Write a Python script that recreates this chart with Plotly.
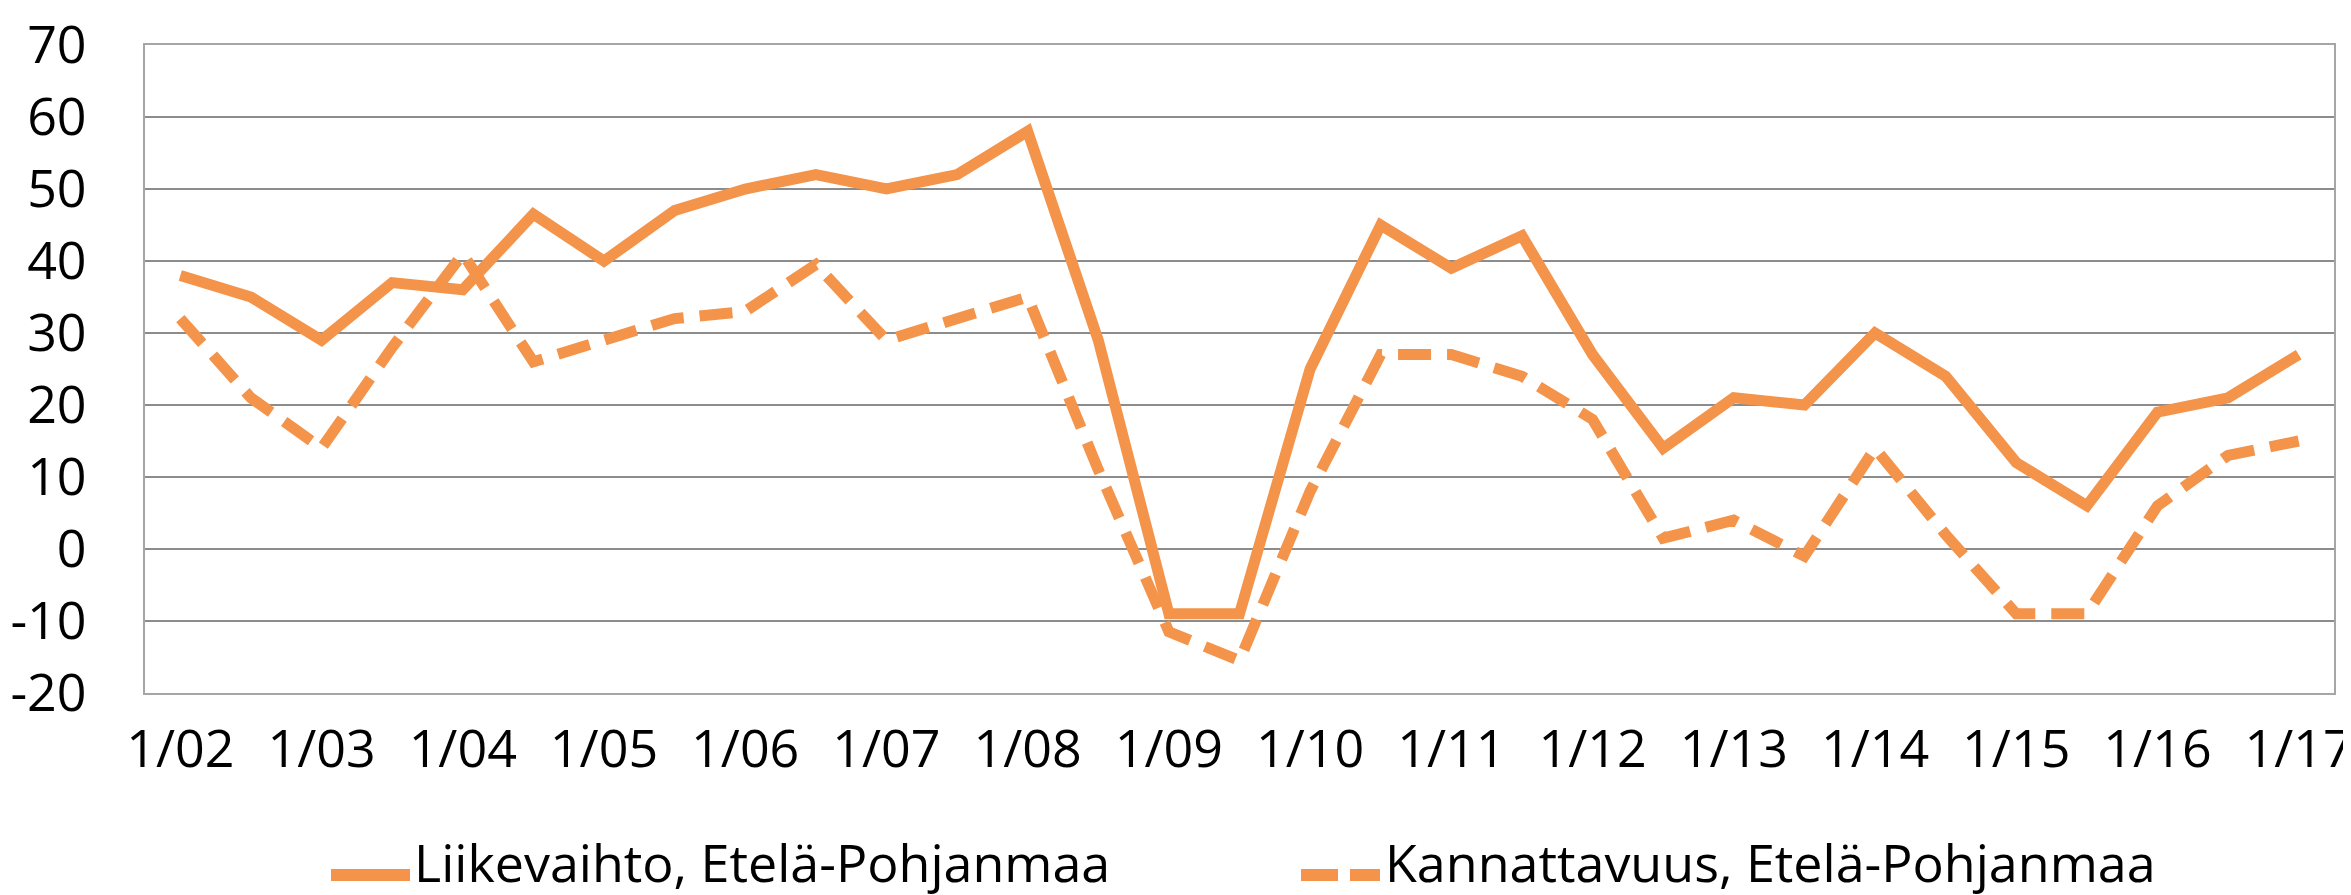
import plotly.graph_objects as go

periods = ["1/02", "7/02", "1/03", "7/03", "1/04", "7/04", "1/05", "7/05", "1/06", "7/06",
           "1/07", "7/07", "1/08", "7/08", "1/09", "7/09", "1/10", "7/10", "1/11", "7/11",
           "1/12", "7/12", "1/13", "7/13", "1/14", "7/14", "1/15", "7/15", "1/16", "7/16", "1/17"]
tick_labels = ["1/02", "1/03", "1/04", "1/05", "1/06", "1/07", "1/08", "1/09",
               "1/10", "1/11", "1/12", "1/13", "1/14", "1/15", "1/16", "1/17"]
y_tick_vals = [-20, -10, 0, 10, 20, 30, 40, 50, 60, 70]
y_tick_text = ["-20", "-10", "0", "10", "20", "30", "40", "50", "60", "70"]
liikevaihto = [38, 35, 29, 37, 36, 46.5, 40, 47, 50, 52,
               50, 52, 58, 29, -9, -9, 25, 45, 39, 43.5,
               27, 14, 21, 20, 30, 24, 12, 6, 19, 21, 27]
kannattavuus = [32, 21, 14, 28, 41, 26, 29, 32, 33, 39.5,
                29, 32, 35, 11, -11.5, -15.5, 8, 27, 27, 24,
                18, 1.5, 4, -1, 14, 2, -9, -9, 6, 13, 15]
names = ["Liikevaihto, Etelä-Pohjanmaa", "Kannattavuus, Etelä-Pohjanmaa"]

ORANGE = "#F4934A"
W, H = 2351, 895
L, R, T, B = 137, 25, 37, 210
PW, PH = W - L - R, H - T - B
FONT = "Open Sans"


def px_x(px):
    return (px - L) / PW


def px_y(py):
    return (H - B - py) / PH


fig = go.Figure()
fig.add_trace(go.Scatter(x=periods, y=liikevaihto, mode="lines", name=names[0],
                         line=dict(color=ORANGE, width=11), showlegend=False))
fig.add_trace(go.Scatter(x=periods, y=kannattavuus, mode="lines", name=names[1],
                         line=dict(color=ORANGE, width=11, dash="33px,16px"), showlegend=False))

# custom legend
leg_y = 867
text_y = 853
fig.add_shape(type="line", xref="paper", yref="paper", x0=px_x(323), x1=px_x(402),
              y0=px_y(leg_y), y1=px_y(leg_y), line=dict(color=ORANGE, width=12))
fig.add_shape(type="line", xref="paper", yref="paper", x0=px_x(1293), x1=px_x(1372),
              y0=px_y(leg_y), y1=px_y(leg_y), line=dict(color=ORANGE, width=12, dash="37px,12px"))
fig.add_annotation(xref="paper", yref="paper", x=px_x(404), y=px_y(text_y), text=names[0],
                   showarrow=False, xanchor="left", yanchor="middle",
                   font=dict(family=FONT, size=52, color="#000000"))
fig.add_annotation(xref="paper", yref="paper", x=px_x(1375), y=px_y(text_y), text=names[1],
                   showarrow=False, xanchor="left", yanchor="middle",
                   font=dict(family=FONT, size=52, color="#000000"))

fig.update_layout(
    width=W, height=H,
    margin=dict(l=L, r=R, t=T, b=B, pad=0, autoexpand=False),
    paper_bgcolor="white", plot_bgcolor="white",
    font=dict(family=FONT, size=52, color="#000000"),
    showlegend=False,
)
fig.update_xaxes(type="category", categoryorder="array", categoryarray=periods,
                 range=[-0.5, len(periods) - 0.5], automargin=False,
                 tickmode="array", tickvals=tick_labels, ticktext=tick_labels,
                 showgrid=False, showline=True, mirror=True, linecolor="#A6A6A6", linewidth=2,
                 ticks="outside", ticklen=10, tickcolor="rgba(0,0,0,0)",
                 ticklabeloverflow="allow",
                 tickfont=dict(family=FONT, size=52, color="#000000"))
fig.update_yaxes(range=[-20, 70], automargin=False,
                 tickmode="array", tickvals=y_tick_vals, ticktext=y_tick_text,
                 showgrid=True, gridcolor="#8C8C8C", gridwidth=2, zeroline=False,
                 showline=True, mirror=True, linecolor="#A6A6A6", linewidth=2,
                 ticks="outside", ticklen=46, tickcolor="rgba(0,0,0,0)",
                 ticklabeloverflow="allow",
                 tickfont=dict(family=FONT, size=52, color="#000000"))

fig.write_html("out.html")
